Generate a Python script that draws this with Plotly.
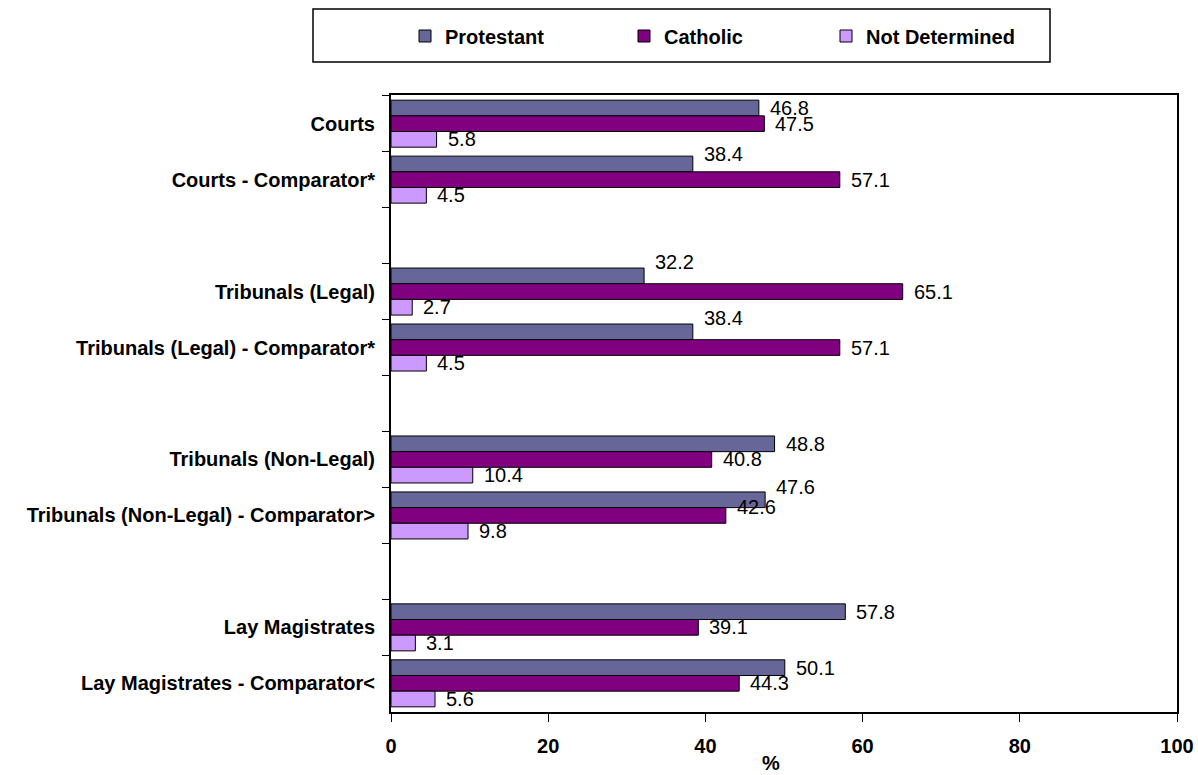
import plotly.graph_objects as go

# Category rows, top to bottom; blank rows separate the four groups
categories = [
    "Courts",
    "Courts - Comparator*",
    " ",
    "Tribunals (Legal)",
    "Tribunals (Legal) - Comparator*",
    "  ",
    "Tribunals (Non-Legal)",
    "Tribunals (Non-Legal) - Comparator>",
    "   ",
    "Lay Magistrates",
    "Lay Magistrates - Comparator<",
]

protestant = [46.8, 38.4, None, 32.2, 38.4, None, 48.8, 47.6, None, 57.8, 50.1]
catholic = [47.5, 57.1, None, 65.1, 57.1, None, 40.8, 42.6, None, 39.1, 44.3]
not_determined = [5.8, 4.5, None, 2.7, 4.5, None, 10.4, 9.8, None, 3.1, 5.6]

series_names = ["Protestant", "Catholic", "Not Determined"]
series_values = [protestant, catholic, not_determined]
series_colors = ["#666699", "#800080", "#CC99FF"]

x_ticks = [0, 20, 40, 60, 80, 100]

# A few value labels sit raised above their bar (pixels, upward)
label_raise = {
    ("Courts - Comparator*", "Protestant"): 10,
    ("Tribunals (Legal)", "Protestant"): 14,
    ("Tribunals (Legal) - Comparator*", "Protestant"): 14,
    ("Tribunals (Non-Legal) - Comparator>", "Protestant"): 13,
    ("Tribunals (Non-Legal) - Comparator>", "Catholic"): 8,
}

FONT = "Liberation Sans, Arial, sans-serif"
BARGAP = 0.16

# Pixel frame of the plotting area
W, H = 1198, 775
L, R, T, B = 391, 21, 95, 63
PW, PH = W - L - R, H - T - B


def px_x(px):
    return (px - L) / PW


def px_y(py):
    return (H - B - py) / PH


fig = go.Figure()
legend_ids = ["legend", "legend2", "legend3"]
for name, vals, color, lg in zip(series_names, series_values, series_colors, legend_ids):
    fig.add_trace(go.Bar(
        name=name,
        y=categories,
        x=vals,
        orientation="h",
        marker=dict(color=color, line=dict(color="black", width=1)),
        legend=lg,
        hoverinfo="x+y+name",
    ))

# Value labels at the end of each bar, placed within its group slot
n = len(series_names)
bar_w = (1 - BARGAP) / n
annotations = []
for k, (name, vals) in enumerate(zip(series_names, series_values)):
    for i, (cat, v) in enumerate(zip(categories, vals)):
        if v is None:
            continue
        annotations.append(dict(
            x=v,
            y=i + (k - (n - 1) / 2) * bar_w,
            xref="x", yref="y",
            text=f"{v:.1f}",
            showarrow=False,
            xanchor="left",
            yanchor="middle",
            xshift=9,
            yshift=label_raise.get((cat, name), 0),
            font=dict(family=FONT, size=20, color="black"),
        ))

# Axis title for the value axis
annotations.append(dict(
    x=px_x(771), y=px_y(763), xref="paper", yref="paper",
    text="%", showarrow=False, xanchor="center", yanchor="middle",
    font=dict(family=FONT, size=20, color="black", weight="bold"),
))

legend_font = dict(family=FONT, size=20, color="black", weight="bold")
legend_common = dict(
    orientation="h", xanchor="left", y=px_y(36), yanchor="middle",
    font=legend_font, bgcolor="rgba(0,0,0,0)", borderwidth=0,
)

fig.update_layout(
    width=W,
    height=H,
    margin=dict(l=L, r=R, t=T, b=B),
    paper_bgcolor="white",
    plot_bgcolor="white",
    barmode="group",
    bargap=BARGAP,
    bargroupgap=0,
    font=dict(family=FONT, size=20, color="black"),
    showlegend=True,
    legend=dict(x=px_x(405), **legend_common),
    legend2=dict(x=px_x(624), **legend_common),
    legend3=dict(x=px_x(826), **legend_common),
    annotations=annotations,
    shapes=[dict(
        type="rect",
        xref="paper", yref="paper",
        x0=px_x(313), x1=px_x(1050), y0=px_y(62), y1=px_y(9),
        line=dict(color="black", width=1.5),
        fillcolor="rgba(0,0,0,0)",
        layer="below",
    )],
)

fig.update_xaxes(
    range=[0, 100],
    tickvals=x_ticks,
    ticks="outside",
    ticklen=8,
    tickcolor="black",
    tickfont=dict(family=FONT, size=20, color="black", weight="bold"),
    ticklabelstandoff=7,
    showgrid=False,
    zeroline=False,
    showline=True,
    linecolor="black",
    linewidth=2,
    mirror=True,
    automargin=False,
)

fig.update_yaxes(
    categoryorder="array",
    categoryarray=categories,
    autorange="reversed",
    ticks="outside",
    tickson="boundaries",
    ticklen=7,
    tickcolor="black",
    tickfont=dict(family=FONT, size=20, color="black", weight="bold"),
    ticklabelstandoff=10,
    showgrid=False,
    zeroline=False,
    showline=True,
    linecolor="black",
    linewidth=2,
    mirror=True,
    automargin=False,
)

fig.write_html("out.html")
